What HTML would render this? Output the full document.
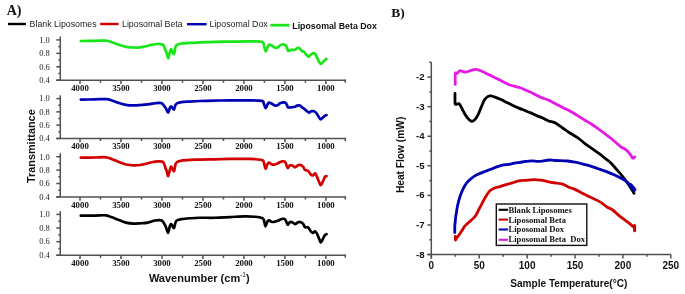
<!DOCTYPE html>
<html><head><meta charset="utf-8"><style>
html,body{margin:0;padding:0;background:#fff;}
body{width:685px;height:294px;overflow:hidden;}
svg{display:block;filter:blur(0.4px);}
</style></head><body>
<svg width="685" height="294" viewBox="0 0 685 294">
<rect width="685" height="294" fill="#fff"/>
<!-- Panel labels -->
<text x="6.7" y="14.7" font-family="Liberation Serif, serif" font-weight="bold" font-size="14" fill="#111">A)</text>
<text x="391.2" y="16.6" font-family="Liberation Serif, serif" font-weight="bold" font-size="13.5" fill="#111">B)</text>
<!-- Legend A -->
<g stroke-width="2.4" stroke-linecap="butt">
<line x1="8" y1="24" x2="26" y2="24" stroke="#000000"/>
<line x1="100.1" y1="24" x2="118.6" y2="24" stroke="#d20000"/>
<line x1="187" y1="24.2" x2="206.6" y2="24.2" stroke="#0000b4"/>
<line x1="270.4" y1="25.2" x2="289.4" y2="25.2" stroke="#19e619" stroke-width="2.8"/>
</g>
<g font-family="Liberation Sans, sans-serif" font-size="8.8" fill="#222">
<text x="29.6" y="26.6">Blank Liposomes</text>
<text x="122" y="26.6">Liposomal Beta</text>
<text x="209.5" y="26.8">Liposomal Dox</text>
<text x="292.3" y="29" font-weight="bold" fill="#111">Liposomal Beta Dox</text>
</g>
<!-- Panel A axes -->
<g stroke="#505050" stroke-width="1.5" fill="none">
<line x1="60.3" y1="36.4" x2="60.3" y2="80.2" />
<line x1="56.3" y1="80.2" x2="345.3" y2="80.2" />
<line x1="56.3" y1="39.90" x2="60.3" y2="39.90" />
<line x1="56.3" y1="53.33" x2="60.3" y2="53.33" />
<line x1="56.3" y1="66.77" x2="60.3" y2="66.77" />
<line x1="56.3" y1="80.20" x2="60.3" y2="80.20" />
<line x1="58.3" y1="46.62" x2="60.3" y2="46.62" />
<line x1="58.3" y1="60.05" x2="60.3" y2="60.05" />
<line x1="58.3" y1="73.48" x2="60.3" y2="73.48" />
<line x1="80.00" y1="80.2" x2="80.00" y2="84.00" />
<line x1="100.49" y1="80.2" x2="100.49" y2="82.80" />
<line x1="120.98" y1="80.2" x2="120.98" y2="84.00" />
<line x1="141.48" y1="80.2" x2="141.48" y2="82.80" />
<line x1="161.97" y1="80.2" x2="161.97" y2="84.00" />
<line x1="182.46" y1="80.2" x2="182.46" y2="82.80" />
<line x1="202.95" y1="80.2" x2="202.95" y2="84.00" />
<line x1="223.45" y1="80.2" x2="223.45" y2="82.80" />
<line x1="243.94" y1="80.2" x2="243.94" y2="84.00" />
<line x1="264.43" y1="80.2" x2="264.43" y2="82.80" />
<line x1="284.93" y1="80.2" x2="284.93" y2="84.00" />
<line x1="305.42" y1="80.2" x2="305.42" y2="82.80" />
<line x1="325.91" y1="80.2" x2="325.91" y2="84.00" />
<path d="M344.6,80.2 L345.3,80.2 L345.3,82.70" /><line x1="60.3" y1="95.3" x2="60.3" y2="138.4" />
<line x1="56.3" y1="138.4" x2="345.3" y2="138.4" />
<line x1="56.3" y1="98.60" x2="60.3" y2="98.60" />
<line x1="56.3" y1="111.87" x2="60.3" y2="111.87" />
<line x1="56.3" y1="125.13" x2="60.3" y2="125.13" />
<line x1="56.3" y1="138.40" x2="60.3" y2="138.40" />
<line x1="58.3" y1="105.23" x2="60.3" y2="105.23" />
<line x1="58.3" y1="118.50" x2="60.3" y2="118.50" />
<line x1="58.3" y1="131.77" x2="60.3" y2="131.77" />
<line x1="80.00" y1="138.4" x2="80.00" y2="142.20" />
<line x1="100.49" y1="138.4" x2="100.49" y2="141.00" />
<line x1="120.98" y1="138.4" x2="120.98" y2="142.20" />
<line x1="141.48" y1="138.4" x2="141.48" y2="141.00" />
<line x1="161.97" y1="138.4" x2="161.97" y2="142.20" />
<line x1="182.46" y1="138.4" x2="182.46" y2="141.00" />
<line x1="202.95" y1="138.4" x2="202.95" y2="142.20" />
<line x1="223.45" y1="138.4" x2="223.45" y2="141.00" />
<line x1="243.94" y1="138.4" x2="243.94" y2="142.20" />
<line x1="264.43" y1="138.4" x2="264.43" y2="141.00" />
<line x1="284.93" y1="138.4" x2="284.93" y2="142.20" />
<line x1="305.42" y1="138.4" x2="305.42" y2="141.00" />
<line x1="325.91" y1="138.4" x2="325.91" y2="142.20" />
<path d="M344.6,138.4 L345.3,138.4 L345.3,140.90" /><line x1="60.3" y1="153.3" x2="60.3" y2="196.9" />
<line x1="56.3" y1="196.9" x2="345.3" y2="196.9" />
<line x1="56.3" y1="156.70" x2="60.3" y2="156.70" />
<line x1="56.3" y1="170.10" x2="60.3" y2="170.10" />
<line x1="56.3" y1="183.50" x2="60.3" y2="183.50" />
<line x1="56.3" y1="196.90" x2="60.3" y2="196.90" />
<line x1="58.3" y1="163.40" x2="60.3" y2="163.40" />
<line x1="58.3" y1="176.80" x2="60.3" y2="176.80" />
<line x1="58.3" y1="190.20" x2="60.3" y2="190.20" />
<line x1="80.00" y1="196.9" x2="80.00" y2="200.70" />
<line x1="100.49" y1="196.9" x2="100.49" y2="199.50" />
<line x1="120.98" y1="196.9" x2="120.98" y2="200.70" />
<line x1="141.48" y1="196.9" x2="141.48" y2="199.50" />
<line x1="161.97" y1="196.9" x2="161.97" y2="200.70" />
<line x1="182.46" y1="196.9" x2="182.46" y2="199.50" />
<line x1="202.95" y1="196.9" x2="202.95" y2="200.70" />
<line x1="223.45" y1="196.9" x2="223.45" y2="199.50" />
<line x1="243.94" y1="196.9" x2="243.94" y2="200.70" />
<line x1="264.43" y1="196.9" x2="264.43" y2="199.50" />
<line x1="284.93" y1="196.9" x2="284.93" y2="200.70" />
<line x1="305.42" y1="196.9" x2="305.42" y2="199.50" />
<line x1="325.91" y1="196.9" x2="325.91" y2="200.70" />
<path d="M344.6,196.9 L345.3,196.9 L345.3,199.40" /><line x1="60.3" y1="211.1" x2="60.3" y2="255.3" />
<line x1="56.3" y1="255.3" x2="345.3" y2="255.3" />
<line x1="56.3" y1="214.40" x2="60.3" y2="214.40" />
<line x1="56.3" y1="228.03" x2="60.3" y2="228.03" />
<line x1="56.3" y1="241.67" x2="60.3" y2="241.67" />
<line x1="56.3" y1="255.30" x2="60.3" y2="255.30" />
<line x1="58.3" y1="221.22" x2="60.3" y2="221.22" />
<line x1="58.3" y1="234.85" x2="60.3" y2="234.85" />
<line x1="58.3" y1="248.48" x2="60.3" y2="248.48" />
<line x1="80.00" y1="255.3" x2="80.00" y2="259.10" />
<line x1="100.49" y1="255.3" x2="100.49" y2="257.90" />
<line x1="120.98" y1="255.3" x2="120.98" y2="259.10" />
<line x1="141.48" y1="255.3" x2="141.48" y2="257.90" />
<line x1="161.97" y1="255.3" x2="161.97" y2="259.10" />
<line x1="182.46" y1="255.3" x2="182.46" y2="257.90" />
<line x1="202.95" y1="255.3" x2="202.95" y2="259.10" />
<line x1="223.45" y1="255.3" x2="223.45" y2="257.90" />
<line x1="243.94" y1="255.3" x2="243.94" y2="259.10" />
<line x1="264.43" y1="255.3" x2="264.43" y2="257.90" />
<line x1="284.93" y1="255.3" x2="284.93" y2="259.10" />
<line x1="305.42" y1="255.3" x2="305.42" y2="257.90" />
<line x1="325.91" y1="255.3" x2="325.91" y2="259.10" />
<path d="M344.6,255.3 L345.3,255.3 L345.3,257.80" />
</g>
<g font-family="Liberation Serif, serif" font-size="8.5" fill="#222">
<text x="49.8" y="42.70" text-anchor="end">1.0</text>
<text x="49.8" y="56.13" text-anchor="end">0.8</text>
<text x="49.8" y="69.57" text-anchor="end">0.6</text>
<text x="49.8" y="83.00" text-anchor="end">0.4</text><text x="49.8" y="101.40" text-anchor="end">1.0</text>
<text x="49.8" y="114.67" text-anchor="end">0.8</text>
<text x="49.8" y="127.93" text-anchor="end">0.6</text>
<text x="49.8" y="141.20" text-anchor="end">0.4</text><text x="49.8" y="159.50" text-anchor="end">1.0</text>
<text x="49.8" y="172.90" text-anchor="end">0.8</text>
<text x="49.8" y="186.30" text-anchor="end">0.6</text>
<text x="49.8" y="199.70" text-anchor="end">0.4</text><text x="49.8" y="217.20" text-anchor="end">1.0</text>
<text x="49.8" y="230.83" text-anchor="end">0.8</text>
<text x="49.8" y="244.47" text-anchor="end">0.6</text>
<text x="49.8" y="258.10" text-anchor="end">0.4</text>
</g>
<g font-family="Liberation Serif, serif" font-size="8.8" font-weight="bold" fill="#111">
<text x="80.00" y="90.80" text-anchor="middle">4000</text>
<text x="120.98" y="90.80" text-anchor="middle">3500</text>
<text x="161.97" y="90.80" text-anchor="middle">3000</text>
<text x="202.95" y="90.80" text-anchor="middle">2500</text>
<text x="243.94" y="90.80" text-anchor="middle">2000</text>
<text x="284.93" y="90.80" text-anchor="middle">1500</text>
<text x="325.91" y="90.80" text-anchor="middle">1000</text><text x="80.00" y="149.00" text-anchor="middle">4000</text>
<text x="120.98" y="149.00" text-anchor="middle">3500</text>
<text x="161.97" y="149.00" text-anchor="middle">3000</text>
<text x="202.95" y="149.00" text-anchor="middle">2500</text>
<text x="243.94" y="149.00" text-anchor="middle">2000</text>
<text x="284.93" y="149.00" text-anchor="middle">1500</text>
<text x="325.91" y="149.00" text-anchor="middle">1000</text><text x="80.00" y="207.50" text-anchor="middle">4000</text>
<text x="120.98" y="207.50" text-anchor="middle">3500</text>
<text x="161.97" y="207.50" text-anchor="middle">3000</text>
<text x="202.95" y="207.50" text-anchor="middle">2500</text>
<text x="243.94" y="207.50" text-anchor="middle">2000</text>
<text x="284.93" y="207.50" text-anchor="middle">1500</text>
<text x="325.91" y="207.50" text-anchor="middle">1000</text><text x="80.00" y="265.90" text-anchor="middle">4000</text>
<text x="120.98" y="265.90" text-anchor="middle">3500</text>
<text x="161.97" y="265.90" text-anchor="middle">3000</text>
<text x="202.95" y="265.90" text-anchor="middle">2500</text>
<text x="243.94" y="265.90" text-anchor="middle">2000</text>
<text x="284.93" y="265.90" text-anchor="middle">1500</text>
<text x="325.91" y="265.90" text-anchor="middle">1000</text>
</g>
<text transform="translate(35.4,146.2) rotate(-90)" text-anchor="middle" font-family="Liberation Sans, sans-serif" font-weight="bold" font-size="10.9" fill="#111">Transmittance</text>
<text x="148.9" y="281.9" font-family="Liberation Sans, sans-serif" font-weight="bold" font-size="11" fill="#111">Wavenumber (cm<tspan font-size="6.5" font-weight="normal" dy="-4.6">-1</tspan><tspan dy="4.6">)</tspan></text>
<!-- Panel A curves -->
<g fill="none" stroke-width="2.7" stroke-linejoin="round" stroke-linecap="round">
<path d="M80.80,41.00 C83.17,40.97 90.85,40.87 95.00,40.80 C99.15,40.73 102.87,40.37 105.70,40.60 C108.53,40.83 109.82,41.50 112.00,42.20 C114.18,42.90 116.47,44.03 118.80,44.80 C121.13,45.57 123.57,46.35 126.00,46.80 C128.43,47.25 131.07,47.42 133.40,47.50 C135.73,47.58 137.90,47.50 140.00,47.30 C142.10,47.10 144.00,46.73 146.00,46.30 C148.00,45.87 150.00,45.11 152.00,44.72 C154.00,44.33 156.43,44.05 158.00,43.98 C159.57,43.91 160.48,44.09 161.40,44.31 C162.32,44.54 162.87,44.48 163.50,45.34 C164.13,46.19 164.63,48.06 165.20,49.45 C165.77,50.84 166.40,52.18 166.90,53.67 C167.40,55.16 167.77,58.36 168.20,58.38 C168.63,58.40 169.02,55.32 169.50,53.80 C169.98,52.27 170.37,49.15 171.10,49.21 C171.83,49.27 173.18,54.42 173.90,54.14 C174.62,53.86 174.90,49.08 175.40,47.55 C175.90,46.03 175.88,45.64 176.90,44.97 C177.92,44.30 179.20,43.88 181.50,43.52 C183.80,43.15 187.47,42.99 190.70,42.81 C193.93,42.62 196.85,42.57 200.90,42.40 C204.95,42.23 210.15,41.93 215.00,41.80 C219.85,41.67 224.17,41.67 230.00,41.60 C235.83,41.53 244.67,41.37 250.00,41.40 C255.33,41.43 259.67,41.08 262.00,41.80 C264.33,42.52 263.40,44.12 264.00,45.70 C264.60,47.28 265.02,51.03 265.60,51.30 C266.18,51.57 266.93,48.40 267.50,47.30 C268.07,46.20 268.25,44.97 269.00,44.70 C269.75,44.43 270.95,45.18 272.00,45.70 C273.05,46.22 274.30,47.53 275.30,47.80 C276.30,48.07 277.05,47.82 278.00,47.30 C278.95,46.78 279.83,45.13 281.00,44.70 C282.17,44.27 284.00,44.18 285.00,44.70 C286.00,45.22 286.50,46.77 287.00,47.80 C287.50,48.83 287.33,50.57 288.00,50.90 C288.67,51.23 289.83,50.00 291.00,49.80 C292.17,49.60 293.83,50.03 295.00,49.70 C296.17,49.37 297.17,47.97 298.00,47.80 C298.83,47.63 299.33,48.13 300.00,48.70 C300.67,49.27 301.33,50.70 302.00,51.20 C302.67,51.70 303.33,51.18 304.00,51.70 C304.67,52.22 305.25,53.45 306.00,54.30 C306.75,55.15 307.83,56.63 308.50,56.80 C309.17,56.97 309.25,55.88 310.00,55.30 C310.75,54.72 312.17,53.55 313.00,53.30 C313.83,53.05 314.33,53.13 315.00,53.80 C315.67,54.47 316.33,55.95 317.00,57.30 C317.67,58.65 318.33,60.78 319.00,61.90 C319.67,63.02 320.33,64.00 321.00,64.00 C321.67,64.00 322.33,62.58 323.00,61.90 C323.67,61.22 324.42,60.40 325.00,59.90 C325.58,59.40 326.25,59.07 326.50,58.90" stroke="#19e619"/>
<path d="M80.80,99.60 C83.17,99.57 90.73,99.48 95.00,99.40 C99.27,99.32 103.57,98.92 106.40,99.10 C109.23,99.28 109.93,99.87 112.00,100.50 C114.07,101.13 116.47,102.18 118.80,102.90 C121.13,103.62 123.57,104.38 126.00,104.80 C128.43,105.22 131.07,105.35 133.40,105.40 C135.73,105.45 137.57,105.27 140.00,105.10 C142.43,104.93 145.50,104.71 148.00,104.40 C150.50,104.09 153.17,103.53 155.00,103.27 C156.83,103.01 157.83,102.81 159.00,102.83 C160.17,102.84 161.13,102.84 162.00,103.37 C162.87,103.90 163.53,105.14 164.20,106.00 C164.87,106.86 165.35,107.41 166.00,108.52 C166.65,109.63 167.47,112.73 168.10,112.65 C168.73,112.58 169.27,109.12 169.80,108.08 C170.33,107.03 170.62,106.14 171.30,106.40 C171.98,106.66 173.22,109.86 173.90,109.63 C174.58,109.41 174.88,106.10 175.40,105.06 C175.92,104.01 175.98,103.86 177.00,103.38 C178.02,102.89 179.33,102.44 181.50,102.14 C183.67,101.84 186.92,101.75 190.00,101.56 C193.08,101.37 195.83,101.16 200.00,101.00 C204.17,100.84 210.00,100.70 215.00,100.60 C220.00,100.50 224.17,100.45 230.00,100.40 C235.83,100.35 244.67,100.23 250.00,100.30 C255.33,100.37 259.75,100.42 262.00,100.80 C264.25,101.18 262.92,101.40 263.50,102.60 C264.08,103.80 264.83,107.70 265.50,108.00 C266.17,108.30 266.92,105.30 267.50,104.40 C268.08,103.50 268.25,102.70 269.00,102.60 C269.75,102.50 271.00,103.30 272.00,103.80 C273.00,104.30 274.00,105.40 275.00,105.60 C276.00,105.80 277.17,105.40 278.00,105.00 C278.83,104.60 278.83,103.60 280.00,103.20 C281.17,102.80 283.83,102.30 285.00,102.60 C286.17,102.90 286.50,104.20 287.00,105.00 C287.50,105.80 287.33,107.00 288.00,107.40 C288.67,107.80 289.83,107.50 291.00,107.40 C292.17,107.30 294.00,107.10 295.00,106.80 C296.00,106.50 296.17,105.80 297.00,105.60 C297.83,105.40 299.17,105.30 300.00,105.60 C300.83,105.90 301.33,106.90 302.00,107.40 C302.67,107.90 303.33,108.10 304.00,108.60 C304.67,109.10 305.17,109.72 306.00,110.40 C306.83,111.08 308.17,112.55 309.00,112.70 C309.83,112.85 310.17,111.53 311.00,111.30 C311.83,111.07 313.17,111.07 314.00,111.30 C314.83,111.53 315.33,111.97 316.00,112.70 C316.67,113.43 317.25,114.60 318.00,115.70 C318.75,116.80 319.67,119.00 320.50,119.30 C321.33,119.60 322.25,118.10 323.00,117.50 C323.75,116.90 324.42,116.10 325.00,115.70 C325.58,115.30 326.25,115.20 326.50,115.10" stroke="#0000b4"/>
<path d="M80.80,157.60 C83.17,157.58 90.80,157.55 95.00,157.50 C99.20,157.45 103.17,157.02 106.00,157.30 C108.83,157.58 109.87,158.42 112.00,159.20 C114.13,159.98 116.47,161.12 118.80,162.00 C121.13,162.88 123.57,163.95 126.00,164.50 C128.43,165.05 131.07,165.22 133.40,165.30 C135.73,165.38 137.90,165.25 140.00,165.00 C142.10,164.75 144.00,164.26 146.00,163.80 C148.00,163.34 150.00,162.62 152.00,162.22 C154.00,161.82 156.30,161.49 158.00,161.40 C159.70,161.30 161.22,161.32 162.20,161.65 C163.18,161.97 163.33,162.28 163.90,163.37 C164.47,164.46 165.10,166.81 165.60,168.19 C166.10,169.56 166.47,170.30 166.90,171.60 C167.33,172.91 167.70,176.31 168.20,176.02 C168.70,175.72 169.37,171.40 169.90,169.84 C170.43,168.28 170.72,166.43 171.40,166.66 C172.08,166.88 173.33,171.53 174.00,171.19 C174.67,170.85 174.90,166.13 175.40,164.60 C175.90,163.08 175.98,162.70 177.00,162.02 C178.02,161.35 179.33,160.94 181.50,160.58 C183.67,160.22 186.92,160.04 190.00,159.88 C193.08,159.72 195.83,159.70 200.00,159.60 C204.17,159.50 210.00,159.42 215.00,159.30 C220.00,159.18 224.17,158.97 230.00,158.90 C235.83,158.83 244.67,158.70 250.00,158.90 C255.33,159.10 259.67,159.42 262.00,160.10 C264.33,160.78 263.42,161.55 264.00,163.00 C264.58,164.45 264.92,168.60 265.50,168.80 C266.08,169.00 266.92,165.25 267.50,164.20 C268.08,163.15 268.25,162.45 269.00,162.50 C269.75,162.55 271.00,164.17 272.00,164.50 C273.00,164.83 274.00,164.72 275.00,164.50 C276.00,164.28 276.83,163.72 278.00,163.20 C279.17,162.68 280.83,161.63 282.00,161.40 C283.17,161.17 284.17,160.93 285.00,161.80 C285.83,162.67 286.50,165.58 287.00,166.60 C287.50,167.62 287.50,168.13 288.00,167.90 C288.50,167.67 289.17,165.53 290.00,165.20 C290.83,164.87 292.17,165.55 293.00,165.90 C293.83,166.25 294.17,167.42 295.00,167.30 C295.83,167.18 297.17,165.60 298.00,165.20 C298.83,164.80 299.17,164.67 300.00,164.90 C300.83,165.13 302.17,165.75 303.00,166.60 C303.83,167.45 304.17,169.32 305.00,170.00 C305.83,170.68 307.00,169.90 308.00,170.70 C309.00,171.50 310.17,174.02 311.00,174.80 C311.83,175.58 312.33,175.63 313.00,175.40 C313.67,175.17 314.33,173.17 315.00,173.40 C315.67,173.63 316.25,175.22 317.00,176.80 C317.75,178.38 318.83,181.53 319.50,182.90 C320.17,184.27 320.33,185.45 321.00,185.00 C321.67,184.55 322.83,181.57 323.50,180.20 C324.17,178.83 324.50,177.48 325.00,176.80 C325.50,176.12 326.25,176.22 326.50,176.10" stroke="#d20000"/>
<path d="M80.80,215.65 C83.17,215.63 90.80,215.60 95.00,215.55 C99.20,215.50 103.17,215.05 106.00,215.35 C108.83,215.65 109.87,216.57 112.00,217.35 C114.13,218.13 116.47,219.17 118.80,220.05 C121.13,220.93 123.57,222.05 126.00,222.65 C128.43,223.25 131.07,223.53 133.40,223.65 C135.73,223.77 137.57,223.53 140.00,223.35 C142.43,223.17 145.50,223.02 148.00,222.55 C150.50,222.08 153.17,220.97 155.00,220.55 C156.83,220.13 157.83,220.05 159.00,220.05 C160.17,220.05 161.13,219.95 162.00,220.55 C162.87,221.15 163.53,222.53 164.20,223.65 C164.87,224.77 165.35,225.72 166.00,227.25 C166.65,228.78 167.47,233.02 168.10,232.85 C168.73,232.68 169.27,227.70 169.80,226.25 C170.33,224.80 170.60,223.82 171.30,224.15 C172.00,224.48 173.32,228.50 174.00,228.25 C174.68,228.00 174.90,223.97 175.40,222.65 C175.90,221.33 175.98,220.95 177.00,220.35 C178.02,219.75 179.33,219.40 181.50,219.05 C183.67,218.70 186.92,218.47 190.00,218.25 C193.08,218.03 195.83,217.83 200.00,217.75 C204.17,217.67 210.00,217.87 215.00,217.75 C220.00,217.63 225.00,217.28 230.00,217.05 C235.00,216.82 240.83,216.40 245.00,216.35 C249.17,216.30 252.17,216.48 255.00,216.75 C257.83,217.02 260.50,217.33 262.00,217.95 C263.50,218.57 263.43,219.05 264.00,220.45 C264.57,221.85 264.82,226.18 265.40,226.35 C265.98,226.52 266.90,222.45 267.50,221.45 C268.10,220.45 268.25,220.27 269.00,220.35 C269.75,220.43 271.00,221.73 272.00,221.95 C273.00,222.17 274.00,221.87 275.00,221.65 C276.00,221.43 276.83,221.10 278.00,220.65 C279.17,220.20 280.83,219.18 282.00,218.95 C283.17,218.72 284.17,218.52 285.00,219.25 C285.83,219.98 286.50,222.45 287.00,223.35 C287.50,224.25 287.50,224.88 288.00,224.65 C288.50,224.42 289.17,222.28 290.00,221.95 C290.83,221.62 292.17,222.30 293.00,222.65 C293.83,223.00 294.17,224.10 295.00,224.05 C295.83,224.00 297.17,222.70 298.00,222.35 C298.83,222.00 299.17,221.73 300.00,221.95 C300.83,222.17 302.17,222.78 303.00,223.65 C303.83,224.52 304.17,226.52 305.00,227.15 C305.83,227.78 307.00,226.72 308.00,227.45 C309.00,228.18 310.17,230.65 311.00,231.55 C311.83,232.45 312.33,232.90 313.00,232.85 C313.67,232.80 314.33,231.13 315.00,231.25 C315.67,231.37 316.25,232.15 317.00,233.55 C317.75,234.95 318.83,238.18 319.50,239.65 C320.17,241.12 320.33,242.68 321.00,242.35 C321.67,242.02 322.83,238.88 323.50,237.65 C324.17,236.42 324.50,235.52 325.00,234.95 C325.50,234.38 326.25,234.37 326.50,234.25" stroke="#000000" stroke-width="2.7"/>
</g>
<!-- Panel B axes -->
<g stroke="#505050" stroke-width="1.5" fill="none">
<line x1="431.3" y1="62.2" x2="431.3" y2="258.5" />
<line x1="427.4" y1="254.5" x2="670.8" y2="254.5" />
<line x1="429.3" y1="62.2" x2="431.3" y2="62.2" />
<line x1="427.4" y1="77.10" x2="431.3" y2="77.10" />
<line x1="429.3" y1="91.89" x2="431.3" y2="91.89" />
<line x1="427.4" y1="106.68" x2="431.3" y2="106.68" />
<line x1="429.3" y1="121.47" x2="431.3" y2="121.47" />
<line x1="427.4" y1="136.26" x2="431.3" y2="136.26" />
<line x1="429.3" y1="151.05" x2="431.3" y2="151.05" />
<line x1="427.4" y1="165.84" x2="431.3" y2="165.84" />
<line x1="429.3" y1="180.63" x2="431.3" y2="180.63" />
<line x1="427.4" y1="195.42" x2="431.3" y2="195.42" />
<line x1="429.3" y1="210.21" x2="431.3" y2="210.21" />
<line x1="427.4" y1="225.00" x2="431.3" y2="225.00" />
<line x1="429.3" y1="239.79" x2="431.3" y2="239.79" />
<line x1="427.4" y1="254.58" x2="431.3" y2="254.58" />
<line x1="431.40" y1="254.5" x2="431.40" y2="258.5" />
<line x1="455.34" y1="254.5" x2="455.34" y2="256.7" />
<line x1="479.28" y1="254.5" x2="479.28" y2="258.5" />
<line x1="503.22" y1="254.5" x2="503.22" y2="256.7" />
<line x1="527.16" y1="254.5" x2="527.16" y2="258.5" />
<line x1="551.10" y1="254.5" x2="551.10" y2="256.7" />
<line x1="575.04" y1="254.5" x2="575.04" y2="258.5" />
<line x1="598.98" y1="254.5" x2="598.98" y2="256.7" />
<line x1="622.92" y1="254.5" x2="622.92" y2="258.5" />
<line x1="646.86" y1="254.5" x2="646.86" y2="256.7" />
<line x1="670.80" y1="254.5" x2="670.80" y2="258.5" />
</g>
<g font-family="Liberation Sans, sans-serif" font-weight="bold" font-size="8.6" fill="#111">
<text x="424.6" y="80.10" text-anchor="end" font-size="9.6">-2</text>
<text x="424.6" y="109.68" text-anchor="end" font-size="9.6">-3</text>
<text x="424.6" y="139.26" text-anchor="end" font-size="9.6">-4</text>
<text x="424.6" y="168.84" text-anchor="end" font-size="9.6">-5</text>
<text x="424.6" y="198.42" text-anchor="end" font-size="9.6">-6</text>
<text x="424.6" y="228.00" text-anchor="end" font-size="9.6">-7</text>
<text x="424.6" y="257.58" text-anchor="end" font-size="9.6">-8</text>
<text x="431.40" y="269.3" text-anchor="middle" font-size="10">0</text>
<text x="479.28" y="269.3" text-anchor="middle" font-size="10">50</text>
<text x="527.16" y="269.3" text-anchor="middle" font-size="10">100</text>
<text x="575.04" y="269.3" text-anchor="middle" font-size="10">150</text>
<text x="622.92" y="269.3" text-anchor="middle" font-size="10">200</text>
<text x="670.80" y="269.3" text-anchor="middle" font-size="10">250</text>
</g>
<text transform="translate(404.4,154.9) rotate(-90)" text-anchor="middle" font-family="Liberation Sans, sans-serif" font-weight="bold" font-size="10.2" fill="#111">Heat Flow (mW)</text>
<text x="510.2" y="286.8" font-family="Liberation Sans, sans-serif" font-weight="bold" font-size="10.1" fill="#111">Sample Temperature(°C)</text>
<!-- Panel B curves -->
<g fill="none" stroke-width="2.8" stroke-linejoin="round" stroke-linecap="round">
<path d="M455.20,84.40 C455.20,83.33 455.18,79.87 455.20,78.00 C455.22,76.13 455.02,73.97 455.30,73.20 C455.58,72.43 456.15,73.82 456.90,73.40 C457.65,72.98 458.92,71.03 459.80,70.70 C460.68,70.37 461.25,71.17 462.20,71.40 C463.15,71.63 464.42,72.12 465.50,72.10 C466.58,72.08 467.62,71.63 468.70,71.30 C469.78,70.97 470.90,70.42 472.00,70.10 C473.10,69.78 473.97,69.33 475.30,69.40 C476.63,69.47 478.32,69.92 480.00,70.50 C481.68,71.08 483.60,72.05 485.40,72.90 C487.20,73.75 488.77,74.58 490.80,75.60 C492.83,76.62 495.23,77.82 497.60,79.00 C499.97,80.18 502.80,81.67 505.00,82.70 C507.20,83.73 508.85,84.52 510.80,85.20 C512.75,85.88 515.13,86.37 516.70,86.80 C518.27,87.23 518.83,87.32 520.20,87.80 C521.57,88.28 523.15,88.95 524.90,89.70 C526.65,90.45 528.77,91.37 530.70,92.30 C532.63,93.23 534.55,94.35 536.50,95.30 C538.45,96.25 540.45,97.22 542.40,98.00 C544.35,98.78 545.80,98.92 548.20,100.00 C550.60,101.08 554.23,103.18 556.80,104.50 C559.37,105.82 561.33,106.77 563.60,107.90 C565.87,109.03 568.13,110.05 570.40,111.30 C572.67,112.55 574.77,113.90 577.20,115.40 C579.63,116.90 582.73,118.90 585.00,120.30 C587.27,121.70 588.70,122.47 590.80,123.80 C592.90,125.13 595.33,126.72 597.60,128.30 C599.87,129.88 601.93,131.43 604.40,133.30 C606.87,135.17 609.70,137.28 612.40,139.50 C615.10,141.72 618.58,145.05 620.60,146.60 C622.62,148.15 623.37,148.08 624.50,148.80 C625.63,149.52 626.35,149.83 627.40,150.90 C628.45,151.97 629.88,153.98 630.80,155.20 C631.72,156.42 632.23,157.90 632.90,158.20 C633.57,158.50 634.48,157.20 634.80,157.00" stroke="#e619e6"/>
<path d="M455.00,93.40 C455.00,94.50 454.97,98.23 455.00,100.00 C455.03,101.77 454.95,103.28 455.20,104.00 C455.45,104.72 455.90,104.37 456.50,104.30 C457.10,104.23 458.07,103.25 458.80,103.60 C459.53,103.95 460.10,105.03 460.90,106.40 C461.70,107.77 462.58,109.98 463.60,111.80 C464.62,113.62 465.75,115.75 467.00,117.30 C468.25,118.85 469.85,120.65 471.10,121.10 C472.35,121.55 473.37,120.98 474.50,120.00 C475.63,119.02 476.77,117.37 477.90,115.20 C479.03,113.03 480.17,109.60 481.30,107.00 C482.43,104.40 483.57,101.37 484.70,99.60 C485.83,97.83 487.08,97.02 488.10,96.40 C489.12,95.78 489.65,95.78 490.80,95.90 C491.95,96.02 493.30,96.50 495.00,97.10 C496.70,97.70 499.02,98.60 501.00,99.50 C502.98,100.40 504.92,101.50 506.90,102.50 C508.88,103.50 510.92,104.57 512.90,105.50 C514.88,106.43 516.82,107.27 518.80,108.10 C520.78,108.93 522.82,109.70 524.80,110.50 C526.78,111.30 528.72,112.05 530.70,112.90 C532.68,113.75 534.72,114.75 536.70,115.60 C538.68,116.45 540.62,117.10 542.60,118.00 C544.58,118.90 546.53,120.20 548.60,121.00 C550.67,121.80 552.67,121.63 555.00,122.80 C557.33,123.97 560.05,126.25 562.60,128.00 C565.15,129.75 567.75,131.65 570.30,133.30 C572.85,134.95 575.35,136.10 577.90,137.90 C580.45,139.70 583.05,142.18 585.60,144.10 C588.15,146.02 590.65,147.62 593.20,149.40 C595.75,151.18 598.93,153.32 600.90,154.80 C602.87,156.28 603.42,157.00 605.00,158.30 C606.58,159.60 608.48,160.77 610.40,162.60 C612.32,164.43 614.45,166.98 616.50,169.30 C618.55,171.62 620.82,174.13 622.70,176.50 C624.58,178.87 626.28,181.33 627.80,183.50 C629.32,185.67 630.77,187.87 631.80,189.50 C632.83,191.13 633.63,192.67 634.00,193.30" stroke="#000000"/>
<path d="M454.80,232.50 C454.80,231.42 454.70,228.08 454.80,226.00 C454.90,223.92 455.20,221.83 455.40,220.00 C455.60,218.17 455.63,217.42 456.00,215.00 C456.37,212.58 456.93,208.58 457.60,205.50 C458.27,202.42 459.08,199.28 460.00,196.50 C460.92,193.72 461.98,191.07 463.10,188.80 C464.22,186.53 465.32,184.65 466.70,182.90 C468.08,181.15 469.62,179.68 471.40,178.30 C473.18,176.92 475.42,175.63 477.40,174.60 C479.38,173.57 481.07,172.98 483.30,172.10 C485.53,171.22 488.57,170.17 490.80,169.30 C493.03,168.43 494.75,167.58 496.70,166.90 C498.65,166.22 500.55,165.62 502.50,165.20 C504.45,164.78 506.45,164.73 508.40,164.40 C510.35,164.07 512.27,163.55 514.20,163.20 C516.13,162.85 518.05,162.60 520.00,162.30 C521.95,162.00 523.95,161.63 525.90,161.40 C527.85,161.17 529.75,160.92 531.70,160.90 C533.65,160.88 535.85,161.27 537.60,161.30 C539.35,161.33 540.27,161.32 542.20,161.10 C544.13,160.88 547.05,160.10 549.20,160.00 C551.35,159.90 552.03,160.33 555.10,160.50 C558.17,160.67 564.23,160.72 567.60,161.00 C570.97,161.28 572.75,161.68 575.30,162.20 C577.85,162.72 580.35,163.45 582.90,164.10 C585.45,164.75 588.05,165.33 590.60,166.10 C593.15,166.87 595.65,167.82 598.20,168.70 C600.75,169.58 603.35,170.43 605.90,171.40 C608.45,172.37 610.95,173.35 613.50,174.50 C616.05,175.65 618.87,177.00 621.20,178.30 C623.53,179.60 625.85,181.03 627.50,182.30 C629.15,183.57 630.10,184.90 631.10,185.90 C632.10,186.90 633.10,187.90 633.50,188.30" stroke="#0000b4"/>
<path d="M455.30,236.50 C455.32,237.08 455.12,239.83 455.40,240.00 C455.68,240.17 456.38,238.35 457.00,237.50 C457.62,236.65 458.25,236.10 459.10,234.90 C459.95,233.70 461.17,231.75 462.10,230.30 C463.03,228.85 463.85,227.30 464.70,226.20 C465.55,225.10 466.27,224.55 467.20,223.70 C468.13,222.85 469.27,222.03 470.30,221.10 C471.33,220.17 472.48,219.05 473.40,218.10 C474.32,217.15 474.97,216.70 475.80,215.40 C476.63,214.10 477.55,211.92 478.40,210.30 C479.25,208.68 480.05,207.32 480.90,205.70 C481.75,204.08 482.55,202.33 483.50,200.60 C484.45,198.87 485.53,196.93 486.60,195.30 C487.67,193.67 488.58,192.02 489.90,190.80 C491.22,189.58 492.82,188.70 494.50,188.00 C496.18,187.30 498.12,187.17 500.00,186.60 C501.88,186.03 503.85,185.18 505.80,184.60 C507.75,184.02 509.55,183.72 511.70,183.10 C513.85,182.48 516.37,181.37 518.70,180.90 C521.03,180.43 523.17,180.52 525.70,180.30 C528.23,180.08 531.37,179.62 533.90,179.60 C536.43,179.58 538.77,179.92 540.90,180.20 C543.03,180.48 544.75,180.92 546.70,181.30 C548.65,181.68 550.27,182.10 552.60,182.50 C554.93,182.90 558.77,183.32 560.70,183.70 C562.63,184.08 562.83,184.22 564.20,184.80 C565.57,185.38 567.33,186.52 568.90,187.20 C570.47,187.88 571.75,188.12 573.60,188.90 C575.45,189.68 577.27,190.53 580.00,191.90 C582.73,193.27 586.67,195.43 590.00,197.10 C593.33,198.77 597.17,200.25 600.00,201.90 C602.83,203.55 605.00,205.73 607.00,207.00 C609.00,208.27 609.83,207.95 612.00,209.50 C614.17,211.05 617.33,214.17 620.00,216.30 C622.67,218.43 625.83,220.60 628.00,222.30 C630.17,224.00 631.92,225.55 633.00,226.50 C634.08,227.45 634.25,227.75 634.50,228.00" stroke="#d20000"/>
<path d="M630.6,185.4 L634.2,189.6" stroke="#0000b4" stroke-width="4.4"/>
<path d="M634.6,225.6 L634.6,230.8" stroke="#d20000" stroke-width="3"/>
</g>
<!-- Legend B -->
<rect x="496.3" y="204" width="90.5" height="41.4" fill="#fff" stroke="#111" stroke-width="1.4"/>
<g stroke-width="2.1">
<line x1="498.6" y1="209.8" x2="508.1" y2="209.8" stroke="#000000"/>
<line x1="498.6" y1="219.6" x2="508.1" y2="219.6" stroke="#c80808"/>
<line x1="498.6" y1="229.5" x2="508.1" y2="229.5" stroke="#0a0aa0"/>
<line x1="498.6" y1="239.8" x2="508.1" y2="239.8" stroke="#d020d0"/>
</g>
<g font-family="Liberation Serif, serif" font-weight="bold" font-size="8.6" fill="#111">
<text x="508.5" y="212.7">Blank Liposomes</text>
<text x="508.5" y="222.5">Liposomal Beta</text>
<text x="508.5" y="232.3">Liposomal Dox</text>
<text x="508.5" y="241.9" style="white-space:pre">Liposomal Beta  Dox</text>
</g>
</svg>
</body></html>
